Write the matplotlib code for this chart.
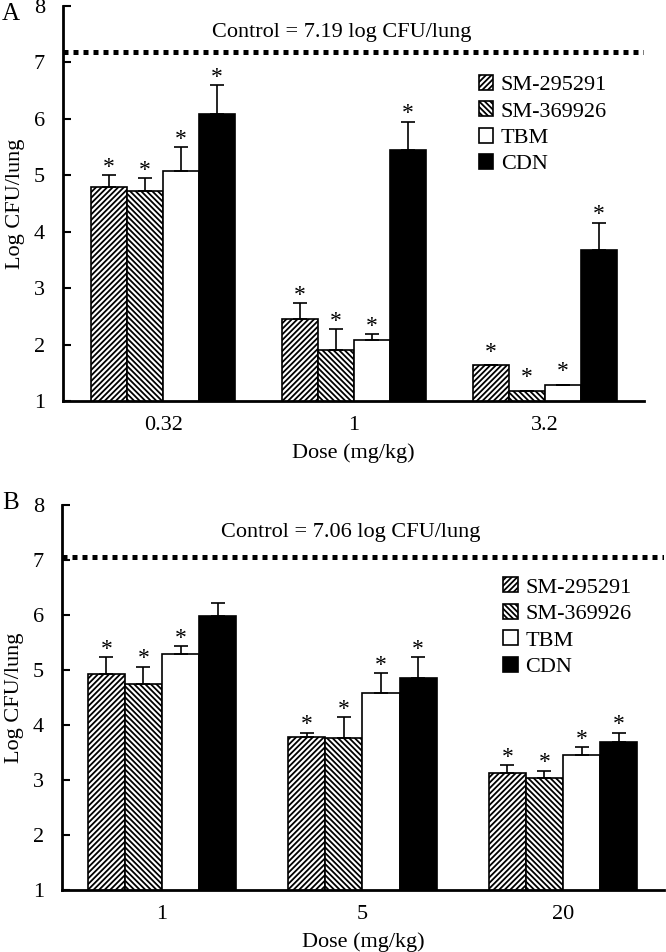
import matplotlib
matplotlib.use("Agg")
import matplotlib.pyplot as plt
import numpy as np
from matplotlib.patches import Patch

plt.rcParams['font.family'] = ['Liberation Serif', 'DejaVu Serif']
plt.rcParams['hatch.linewidth'] = 1.3

series = ["SM-295291", "SM-369926", "TBM", "CDN"]

doses_a = ["0.32", "1", "3.2"]
mean_a = {
    "SM-295291": [4.80, 2.45, 1.63],
    "SM-369926": [4.72, 1.90, 1.18],
    "TBM":       [5.08, 2.08, 1.28],
    "CDN":       [6.08, 5.45, 3.68],
}
err_a = {
    "SM-295291": [0.20, 0.29, 0.00],
    "SM-369926": [0.23, 0.37, 0.00],
    "TBM":       [0.42, 0.10, 0.00],
    "CDN":       [0.52, 0.50, 0.48],
}
star_a = {
    "SM-295291": [True, True, True],
    "SM-369926": [True, True, True],
    "TBM":       [True, True, True],
    "CDN":       [True, True, True],
}
control_a = 7.19

doses_b = ["1", "5", "20"]
mean_b = {
    "SM-295291": [4.93, 3.79, 3.12],
    "SM-369926": [4.74, 3.76, 3.03],
    "TBM":       [5.30, 4.58, 3.46],
    "CDN":       [5.98, 4.85, 3.70],
}
err_b = {
    "SM-295291": [0.30, 0.07, 0.15],
    "SM-369926": [0.32, 0.38, 0.14],
    "TBM":       [0.13, 0.37, 0.14],
    "CDN":       [0.23, 0.38, 0.16],
}
star_b = {
    "SM-295291": [True, True, True],
    "SM-369926": [True, True, True],
    "TBM":       [True, True, True],
    "CDN":       [False, True, True],
}
control_b = 7.06

styles = {
    "SM-295291": dict(facecolor="white", hatch="//////"),
    "SM-369926": dict(facecolor="white", hatch="\\\\\\\\\\\\"),
    "TBM":       dict(facecolor="white", hatch=None),
    "CDN":       dict(facecolor="black", hatch=None),
}

FS = 16
fig = plt.figure(figsize=(6.66, 9.52), dpi=100)


def panel(rect, xlim, w, doses, mean, err, star, control, legend_xy, ctrl_y):
    ax = fig.add_axes(rect)
    x = np.arange(len(doses))
    for i, s in enumerate(series):
        pos = x + (i - 1.5) * w
        ax.bar(pos, mean[s], width=w, bottom=0, edgecolor="black", linewidth=1.2,
               zorder=2, **styles[s])
        e = np.array(err[s])
        m = np.array(mean[s])
        ax.errorbar(pos, m, yerr=[np.zeros_like(e), e], fmt="none", ecolor="black",
                    elinewidth=1.2, capsize=5, capthick=1.2, zorder=3)
        for j in range(len(doses)):
            if star[s][j]:
                extra = 0.1 if e[j] == 0 else 0.0
                ax.text(pos[j], m[j] + e[j] + 0.04 + extra, "*", ha="center", va="baseline",
                        fontsize=FS + 1, zorder=4)
    ax.axhline(control, color="black", linewidth=3.6, linestyle=(0, (1, 1)), zorder=1)
    ax.text(0.48, ctrl_y, "Control = %.2f log CFU/lung" % control, transform=ax.get_yaxis_transform(),
            ha="center", va="center", fontsize=FS)
    ax.set_ylim(1, 8)
    ax.set_xlim(*xlim)
    ax.set_yticks(range(1, 9))
    ax.set_xticks(x)
    ax.set_xticklabels(doses)
    ax.tick_params(axis="y", direction="in", length=6, width=1.5, labelsize=FS, pad=13)
    ax.tick_params(axis="x", length=0, labelsize=FS, pad=11)
    for sp in ["top", "right"]:
        ax.spines[sp].set_visible(False)
    for sp in ["left", "bottom"]:
        ax.spines[sp].set_linewidth(2)
    ax.set_ylabel("Log CFU/lung", fontsize=FS, labelpad=6)
    ax.set_xlabel("Dose (mg/kg)", fontsize=FS, labelpad=6)
    handles = [Patch(edgecolor="black", linewidth=1.2, **styles[s]) for s in series]
    ax.legend(handles, series, loc="upper left", bbox_to_anchor=legend_xy,
              frameon=False, fontsize=FS, handlelength=0.65, handleheight=0.65,
              handletextpad=0.35, labelspacing=0.28, borderaxespad=0)
    return ax


axA = panel([63 / 666, 1 - 401 / 952, 581 / 666, 395 / 952], (-0.524, 2.518), 0.188,
            doses_a, mean_a, err_a, star_a, control_a, (0.70, 0.848), 7.53)
axB = panel([62 / 666, 1 - 890 / 952, 602 / 666, 385 / 952], (-0.499, 2.504), 0.185,
            doses_b, mean_b, err_b, star_b, control_b, (0.718, 0.835), 7.5)
fig.text(2 / 666, 1 - 14 / 952, "A", fontsize=FS + 2, va="center", ha="left")
fig.text(2 / 666, 1 - 503 / 952, "B", fontsize=FS + 2, va="center", ha="left")

fig.savefig("out.png", dpi=100)
